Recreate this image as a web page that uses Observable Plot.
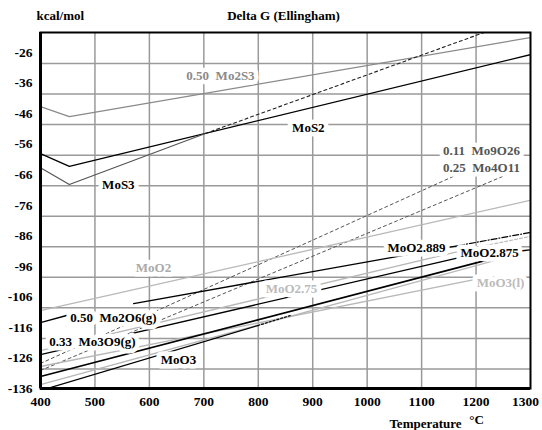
<!DOCTYPE html>
<html><head><meta charset="utf-8">
<script src="https://cdn.jsdelivr.net/npm/d3@7"></script>
<script src="https://cdn.jsdelivr.net/npm/@observablehq/plot@0.6"></script>
<style>
body{margin:0;background:#fff}
svg, svg text { font-family: "Liberation Serif", "DejaVu Serif", "Times New Roman", serif !important; font-weight: bold; }
</style>
</head><body><div id="chart"></div>
<script>
// ---- axis values ----
const xTicks = [400, 500, 600, 700, 800, 900, 1000, 1100, 1200, 1300];
const yTickLabels = [-136, -126, -116, -106, -96, -86, -76, -66, -56, -46, -36, -26];
const yGrid = [-29.6, -39.6, -49.6, -59.6, -69.6, -79.6, -89.6, -99.6, -109.6, -119.6, -129.6];

// ---- series: [Temperature °C, Delta G kcal/mol] ----
const mo2s3 = [[400, -43.7], [453, -47.0], [1300, -21.1]];
const mos2 = [[400, -59.1], [453, -63.3], [1300, -26.7]];
const mos3 = [[400, -63.7], [453, -69.2], [703, -52.5]];
const mos3Ext = [[703, -52.5], [1214, -19.5]];
const mo9o26 = [[400, -127.8], [1190, -64.0]];
const mo4o11 = [[400, -130.1], [1258, -65.9]];
const moo2 = [[400, -110.5], [1300, -74.4]];
const mo2o6g = [[400, -114.4], [448, -112.1]];
const moo2889 = [[571, -108.2], [1168, -89.2]];
const moo2889Ext = [[1168, -89.2], [1300, -84.9]];
const mo3o9g = [[400, -124.9], [1171, -93.1]];
const moo2875 = [[400, -132.1], [1223, -93.8]];
const moo2875Tail = [[1285, -90.9], [1300, -90.6]];
const moo275 = [[400, -123.6], [1190, -90.2]];
const moo275Ext = [[1190, -90.2], [1300, -86.2]];
const moo3 = [[418, -135.7], [799, -115.4]];
const moo3Ext = [[799, -115.4], [859, -112.1]];
const moo3l = [[400, -128.8], [1199, -100.3]];
const lowGray = [[400, -134.7], [1282, -91.8]];

// ---- labels ----
const labelNames = ["0.50\u00a0\u00a0Mo2S3", "MoS2", "MoS3", "0.11\u00a0\u00a0Mo9O26", "0.25\u00a0\u00a0Mo4O11",
  "MoO2", "MoO2.889", "MoO2.875", "MoO2.75", "MoO3(l)", "0.50\u00a0\u00a0Mo2O6(g)", "0.33\u00a0\u00a0Mo3O9(g)", "MoO3"];
const labelT = [730.6, 892, 543, 1210, 1210, 607.6, 1090.7, 1224.8, 861, 1245, 534, 495.5, 653.5];
const labelG = [-33.5, -50.6, -69.2, -58.1, -63.6, -96.4, -89.8, -91.5, -103.3, -101.3, -112.8, -120.6, -126.5];

// ---- styles ----
const BLACK = "#000", DARK = "#555", MID = "#8a8a8a", LIGHT = "#b8b8b8";
const lineDefs = [
  [mo2s3, MID, 1.2, null],
  [mos2, BLACK, 1.3, null],
  [mos3, DARK, 1.2, null],
  [mos3Ext, "#222", 1.1, "3,3"],
  [mo9o26, DARK, 1, "3,3"],
  [mo4o11, DARK, 1, "3,3"],
  [moo2, LIGHT, 1.3, null],
  [moo3l, LIGHT, 1.3, null],
  [lowGray, LIGHT, 1.3, null],
  [moo275, LIGHT, 1.3, null],
  [moo275Ext, LIGHT, 1.2, "3,2"],
  [mo2o6g, BLACK, 1.3, null],
  [moo2889, BLACK, 1.3, null],
  [moo2889Ext, BLACK, 1.2, "6,2,1,2"],
  [mo3o9g, BLACK, 1.3, null],
  [moo2875, BLACK, 1.6, null],
  [moo2875Tail, BLACK, 1.3, null],
  [moo3, BLACK, 1.3, null],
  [moo3Ext, BLACK, 1.2, "2,2"]
];
const labelColors = [MID, BLACK, BLACK, DARK, DARK, "#aaa", BLACK, BLACK, "#bbb", "#bbb", BLACK, BLACK, BLACK];
const labels = labelNames.map((t, i) => ({t, x: labelT[i], y: labelG[i], c: labelColors[i]}));

const chart = Plot.plot({
  width: 542, height: 430,
  marginLeft: 40, marginRight: 12, marginTop: 32, marginBottom: 42,
  x: {domain: [400, 1300]},
  y: {domain: [-136, -19.45]},
  style: {fontSize: "13px", fontWeight: "bold", background: "#fff", color: "#000"},
  marks: [
    Plot.gridX(xTicks.slice(1, -1), {stroke: "#9a9a9a", strokeOpacity: 1, strokeWidth: 1.5}),
    Plot.gridY(yGrid, {stroke: "#9a9a9a", strokeOpacity: 1, strokeWidth: 1.5}),
    ...lineDefs.map(([d, c, w, dash]) => Plot.line(d, {x: p => p[0], y: p => p[1], stroke: c, strokeWidth: w, strokeDasharray: dash, clip: true})),
    Plot.text(labels, {x: "x", y: "y", text: "t", fill: d => d.c, stroke: "#fff", strokeWidth: 9, strokeLinejoin: "round", fontSize: 13, fontWeight: "bold"}),
    Plot.frame({stroke: "#000", strokeWidth: 2}),
    Plot.ruleX([400], {stroke: "#000", strokeWidth: 3}),
    Plot.ruleY([-136], {stroke: "#000", strokeWidth: 3}),
    Plot.axisX(xTicks.slice(0, -1), {tickSize: 0, tickPadding: 8, label: null, tickFormat: d => String(d), fontWeight: "bold", fontSize: 13.5}),
    Plot.axisX(xTicks.slice(-1), {tickSize: 0, tickPadding: 8, label: null, tickFormat: d => String(d), fontWeight: "bold", fontSize: 13.5, dx: -5}),
    Plot.axisY(yTickLabels, {tickSize: 0, tickPadding: 8, label: null, tickFormat: d => String(d), fontWeight: "bold", fontSize: 13.5}),
    Plot.text(["Delta G (Ellingham)"], {frameAnchor: "top", dx: -2, dy: -17, textAnchor: "middle", lineAnchor: "middle", fontWeight: "bold", fontSize: 13}),
    Plot.text(["kcal/mol"], {frameAnchor: "top-left", dx: -4, dy: -17, textAnchor: "start", lineAnchor: "middle", fontWeight: "bold", fontSize: 13}),
    Plot.text(["Temperature"], {frameAnchor: "bottom", dx: 140, dy: 35, textAnchor: "middle", lineAnchor: "middle", fontWeight: "bold", fontSize: 13}),
    Plot.text(["°C"], {frameAnchor: "bottom", dx: 191, dy: 31, textAnchor: "middle", lineAnchor: "middle", fontWeight: "bold", fontSize: 13})
  ]
});
document.getElementById("chart").appendChild(chart);
</script>
</body></html>
